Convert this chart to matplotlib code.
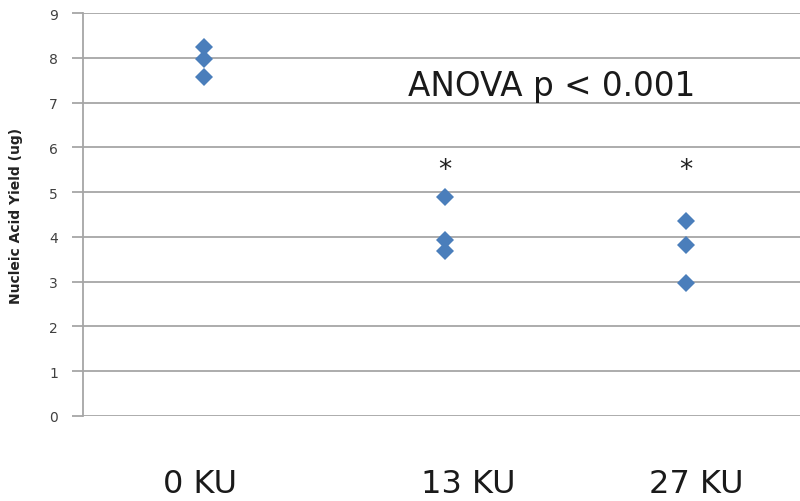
import matplotlib
matplotlib.use("Agg")
import matplotlib.pyplot as plt

groups = ["0 KU", "13 KU", "27 KU"]
values = [
    [8.24, 7.97, 7.56],
    [4.89, 3.92, 3.69],
    [4.36, 3.83, 2.97],
]
y_ticks = list(range(0, 10))
sig_marks = [None, "*", "*"]
sig_y = 5.5
anova_text = "ANOVA p < 0.001"

fig = plt.figure(figsize=(8.0, 5.02), dpi=100)
ax = fig.add_axes([83/800, 1-417/502, 1-83/800, (417-14)/502])

grid_c = "#a6a6a6"
for i, vals in enumerate(values):
    ax.plot([i]*len(vals), vals, linestyle="none", marker="D", ms=9.5,
            color="#4a7ebb", markeredgewidth=0, zorder=3)
    if sig_marks[i]:
        ax.text(i, sig_y, sig_marks[i], ha="center", va="center", fontsize=19,
                family="DejaVu Sans", color="#222222")

ax.set_xlim(-0.502, 2.473)
ax.set_ylim(0, 9)
ax.set_yticks(y_ticks)
ax.set_yticklabels([str(t) for t in y_ticks], fontsize=10, color="#404040",
                   family="DejaVu Sans")
ax.set_xticks([])
ax.yaxis.grid(True, color=grid_c, linewidth=1.3)
ax.set_axisbelow(True)
for s in ["top", "right", "bottom"]:
    ax.spines[s].set_visible(False)
ax.spines["left"].set_color(grid_c)
ax.spines["left"].set_linewidth(1.3)
ax.tick_params(axis="y", length=8, width=1.3, color=grid_c, pad=10)
ax.set_ylabel("Nucleic Acid Yield (ug)", fontsize=10, fontweight="bold",
              family="DejaVu Sans", color="#222222")
ax.yaxis.set_label_coords(-0.083, 0.5)

ax.text(0.845, 7.38, anova_text, ha="left", va="center", fontsize=23.5,
        family="DejaVu Sans", color="#1a1a1a")

label_x = [200, 468, 696]
for lx, g in zip(label_x, groups):
    fig.text(lx/800, 1-485/502, g, ha="center", va="center", fontsize=23,
             family=["Liberation Sans Narrow", "DejaVu Sans"], color="#1a1a1a")

fig.savefig("out.png", dpi=100)
